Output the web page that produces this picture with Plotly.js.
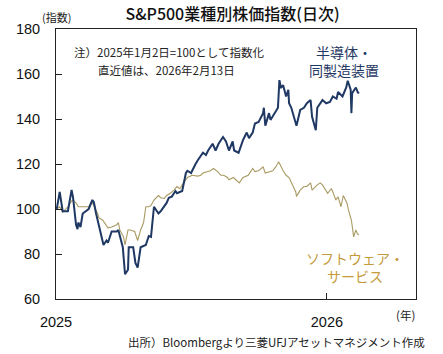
<!DOCTYPE html>
<html><head><meta charset="utf-8">
<script src="https://cdn.plot.ly/plotly-3.0.1.min.js"></script>
<style>html,body{margin:0;padding:0;background:#fff}#chart{width:443px;height:354px}</style>
</head><body><div id="chart"></div>
<script>
// 半導体・同製造装置
const semiDates = ['2025-01-02','2025-01-06','2025-01-10','2025-01-17','2025-01-22','2025-01-24','2025-01-28','2025-01-30','2025-01-31','2025-02-03','2025-02-06','2025-02-10','2025-02-14','2025-02-19','2025-02-21','2025-02-24','2025-02-28','2025-03-03','2025-03-06','2025-03-10','2025-03-12','2025-03-17','2025-03-24','2025-03-26','2025-03-28','2025-04-01','2025-04-04','2025-04-08','2025-04-09','2025-04-15','2025-04-18','2025-04-21','2025-04-25','2025-05-02','2025-05-06','2025-05-09','2025-05-13','2025-05-19','2025-05-22','2025-05-27','2025-05-30','2025-06-02','2025-06-06','2025-06-11','2025-06-13','2025-06-20','2025-06-25','2025-06-27','2025-07-02','2025-07-08','2025-07-11','2025-07-18','2025-07-22','2025-07-25','2025-07-31','2025-08-04','2025-08-08','2025-08-14','2025-08-18','2025-08-22','2025-08-27','2025-08-29','2025-09-04','2025-09-10','2025-09-15','2025-09-18','2025-09-23','2025-09-26','2025-10-01','2025-10-07','2025-10-08','2025-10-10','2025-10-15','2025-10-17','2025-10-21','2025-10-27','2025-10-29','2025-10-31','2025-11-03','2025-11-07','2025-11-10','2025-11-11','2025-11-14','2025-11-17','2025-11-21','2025-11-26','2025-12-01','2025-12-05','2025-12-10','2025-12-12','2025-12-17','2025-12-19','2025-12-26','2025-12-31','2026-01-05','2026-01-09','2026-01-14','2026-01-16','2026-01-22','2026-01-27','2026-01-29','2026-02-02','2026-02-03','2026-02-04','2026-02-09','2026-02-12','2026-02-13'];
const semiValues = [100,107.6,99,99,108.5,105,93,91,94,92,98,99,100,104,103,98,92,88,84,86,85,90,90,90.7,88,83,71,73,83,83,76,74,83,84,88,87.6,101,98,99,101,102.7,105,105.5,108,107,108,116,117,116,120,121.7,125,124,126,129,126,129,132,130,126,130,126,125,130.7,134,131.5,134,138,138.7,142.6,145,137,142.6,139.6,141.8,145,157.3,153.8,155,150,153,147,145,142,137,144,145,147,148.4,141,135,145,148.4,147,147.6,150,149,152,150,154,157,153,142.6,151.5,154,151.5,152];

// ソフトウェア・サービス
const softDates = ['2025-01-02','2025-01-06','2025-01-10','2025-01-17','2025-01-23','2025-01-28','2025-01-31','2025-02-06','2025-02-14','2025-02-18','2025-02-21','2025-02-26','2025-02-28','2025-03-05','2025-03-12','2025-03-17','2025-03-24','2025-03-26','2025-03-28','2025-04-02','2025-04-04','2025-04-08','2025-04-11','2025-04-17','2025-04-21','2025-04-25','2025-04-29','2025-05-02','2025-05-06','2025-05-09','2025-05-13','2025-05-19','2025-05-22','2025-05-27','2025-05-30','2025-06-04','2025-06-09','2025-06-13','2025-06-17','2025-06-20','2025-06-27','2025-07-01','2025-07-03','2025-07-11','2025-07-15','2025-07-18','2025-07-24','2025-07-28','2025-08-01','2025-08-07','2025-08-11','2025-08-15','2025-08-20','2025-08-22','2025-08-28','2025-09-04','2025-09-05','2025-09-10','2025-09-17','2025-09-23','2025-09-26','2025-10-01','2025-10-07','2025-10-10','2025-10-15','2025-10-20','2025-10-24','2025-10-28','2025-11-03','2025-11-07','2025-11-11','2025-11-14','2025-11-20','2025-11-21','2025-11-26','2025-12-01','2025-12-05','2025-12-10','2025-12-12','2025-12-19','2025-12-23','2025-12-26','2025-12-31','2026-01-02','2026-01-07','2026-01-09','2026-01-13','2026-01-16','2026-01-20','2026-01-23','2026-01-28','2026-01-30','2026-02-03','2026-02-04','2026-02-06','2026-02-09','2026-02-11','2026-02-13'];
const softValues = [100,101,98.5,101,104,102.7,101,101,101,103,101.6,98,96,95,91.6,92,93,94,90.7,87.6,84,90.7,90.7,90,86,90.7,94,101,101,101.6,104,106,105,104.7,106,107,108.4,110,109,110.7,114,114.6,115,114.6,115,116,116.6,117,118,116.6,115,115,114,113,114,111.6,111.6,114,115,118,116.6,117,118.7,116,116.6,117,118.7,121,117,115,114,112,107.6,105.6,108.4,110,110,111.6,108.4,110.7,111.6,110.7,108.4,107,109,107.6,104,105.4,101,106,102.7,99.6,95,91.6,87.6,90.7,89,88.4];

const xTickVals = ['2025-01-01','2026-01-01'];
const xTickText = ['2025','2026'];
const yTickVals = [60,80,100,120,140,160,180];

const semiName = '半導体・<br>同製造装置';
const softName = 'ソフトウェア・<br>サービス';

const traces = [
  {x: softDates, y: softValues, type:'scatter', mode:'lines', name:'ソフトウェア・サービス',
   line:{color:'#a99a62', width:1.1}, hoverinfo:'skip'},
  {x: semiDates, y: semiValues, type:'scatter', mode:'lines', name:'半導体・同製造装置',
   line:{color:'#1f3864', width:2}, hoverinfo:'skip'}
];

const tickFont = {family:'"Liberation Sans", Arial, sans-serif', size:14.5, color:'#111'};
const jp = '"Noto Sans CJK JP", sans-serif';

const layout = {
  width:443, height:354,
  margin:{l:56, r:27, t:29, b:55},
  paper_bgcolor:'#fff', plot_bgcolor:'#fff',
  showlegend:false,
  title:{text:'S&P500業種別株価指数(日次)', font:{family:jp, size:16, color:'#111', weight:500},
         x:0.525, xanchor:'center', y:0.958, yanchor:'middle'},
  xaxis:{type:'date', range:['2025-01-01','2026-05-01'], tickvals:xTickVals, ticktext:xTickText,
         ticks:'inside', ticklen:6, tickcolor:'#222', showgrid:false, zeroline:false,
         showline:true, mirror:true, linecolor:'#222', linewidth:1,
         tickfont:tickFont, ticklabelstandoff:10},
  yaxis:{range:[60,180], tickvals:yTickVals, ticks:'inside', ticklen:6, tickcolor:'#222',
         showgrid:false, zeroline:false, showline:true, mirror:true, linecolor:'#222', linewidth:1,
         tickfont:tickFont, ticklabelstandoff:12},
  annotations:[
    {text:'(指数)', xref:'paper', yref:'paper', x:-0.045, y:1.045, xanchor:'left', yanchor:'middle',
     showarrow:false, font:{family:jp, size:11, color:'#222'}},
    {text:'(年)', xref:'paper', yref:'paper', x:0.97, y:-0.06, xanchor:'center', yanchor:'middle',
     showarrow:false, font:{family:jp, size:11.5, color:'#222'}},
    {text:'注）2025年1月2日=100として指数化', xref:'paper', yref:'paper', x:0.044, y:0.915,
     xanchor:'left', yanchor:'middle', showarrow:false, font:{family:jp, size:11.5, color:'#222'}},
    {text:'直近値は、2026年2月13日', xref:'paper', yref:'paper', x:0.111, y:0.848,
     xanchor:'left', yanchor:'middle', showarrow:false, font:{family:jp, size:11.5, color:'#222'}},
    {text:semiName, xref:'paper', yref:'paper', x:0.80, y:0.88, xanchor:'center', yanchor:'middle',
     showarrow:false, font:{family:jp, size:14, color:'#1f3864'}, align:'center'},
    {text:softName, xref:'paper', yref:'paper', x:0.83, y:0.12, xanchor:'center', yanchor:'middle',
     showarrow:false, font:{family:jp, size:14, color:'#c49a3c'}, align:'center'},
    {text:'出所）Bloombergより三菱UFJアセットマネジメント作成', xref:'paper', yref:'paper', x:1.03, y:-0.158,
     xanchor:'right', yanchor:'middle', showarrow:false, font:{family:jp, size:11.5, color:'#222'}}
  ]
};

Plotly.newPlot('chart', traces, layout, {staticPlot:true, displayModeBar:false});
</script></body></html>
